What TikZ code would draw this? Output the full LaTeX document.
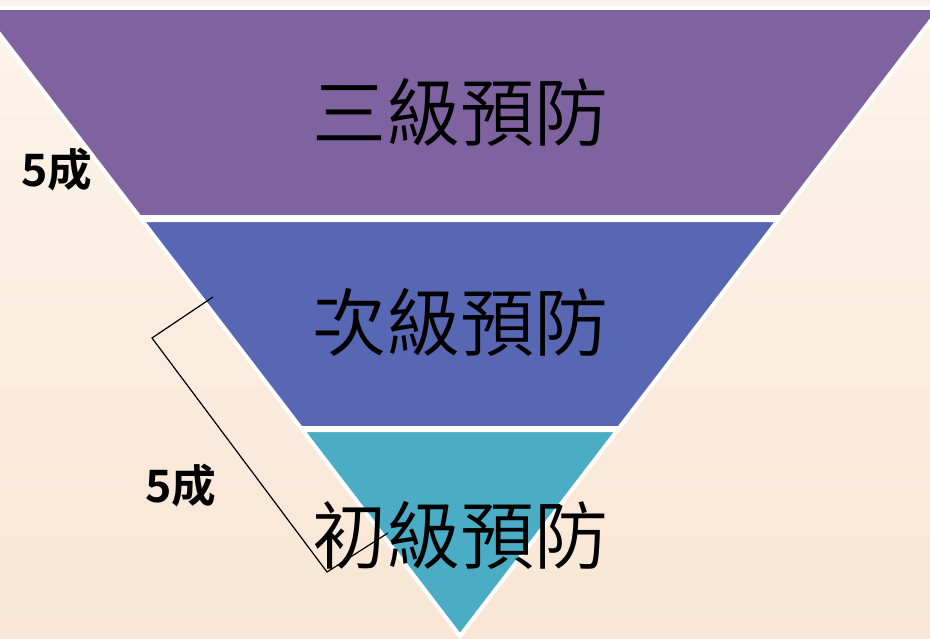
\documentclass[tikz,border=0pt]{standalone}
\usepackage{fontspec}
\usepackage{xcolor}
\usepackage{tikz}
\usetikzlibrary{positioning}
\newfontfamily\cjkbold{Noto Sans CJK TC Bold}
\newfontfamily\cjklight{Noto Sans CJK TC DemiLight}
\definecolor{bgcream}{HTML}{FCF4EC}
\definecolor{bgpeach}{HTML}{F9E6D4}
\definecolor{levelthree}{HTML}{7F63A1}
\definecolor{leveltwo}{HTML}{5867B4}
\definecolor{levelone}{HTML}{4BACC6}

\begin{document}
\begin{tikzpicture}[x=0.75pt,y=0.75pt,yscale=-1,xscale=1,
    band/.style={draw=white, line width=3pt, line join=miter},
    level/.style={anchor=base, inner sep=0pt, font=\cjklight\fontsize{55.5}{60}\selectfont},
    share/.style={anchor=base, inner sep=0pt, font=\cjkbold\fontsize{33.5}{36}\selectfont}]
        \useasboundingbox (0,0) rectangle (930,638);
        \clip (0,0) rectangle (930,638);
        \shade [top color=bgcream, bottom color=bgpeach] (0,0) rectangle (930,638);
        \draw  [band, fill=levelthree] (-20.4,8) -- (940.4,8) -- (780.5,217) -- (139.5,217) -- cycle ;
        \draw  [band, fill=leveltwo] (141.8,220) -- (778.2,220) -- (619.1,428) -- (300.9,428) -- cycle ;
        \draw  [band, fill=levelone] (302.4,430) -- (617.6,430) -- (460,636) -- cycle ;
        \node [level] (tertiary) at (460,141) {三級預防};
        \node [level] (secondary) at (460,350) {次級預防};
        \node [level] (primary) at (460,563) {初級預防};
        \node [share] (shareTop) at (57,186) {5成};
        \node [share] (shareLow) at (181,502) {5成};
        \coordinate (braceA) at (213,297);
        \coordinate (braceB) at (152,338);
        \coordinate (braceC) at (327,572);
        \coordinate (braceD) at (388,533);
        \draw [line width=0.9pt] (braceA) -- (braceB) -- (braceC) -- (braceD);
\end{tikzpicture}
\end{document}
